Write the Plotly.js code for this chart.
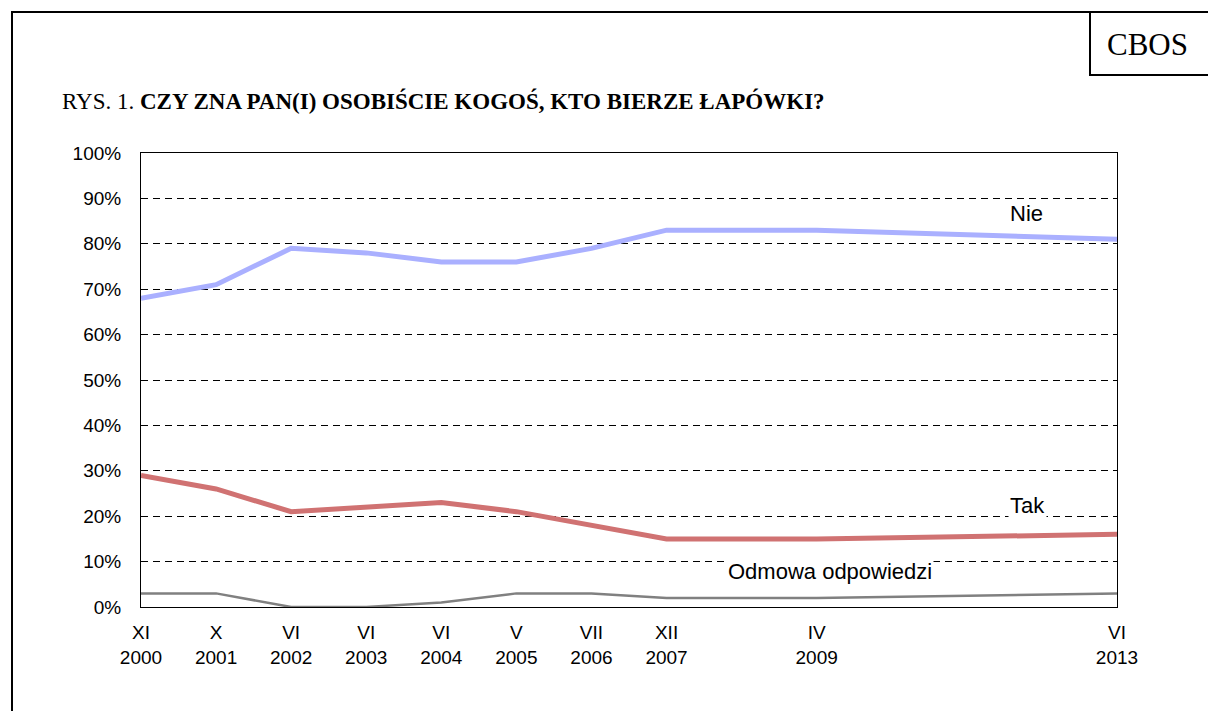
<!DOCTYPE html>
<html>
<head>
<meta charset="utf-8">
<script src="https://cdn.plot.ly/plotly-3.0.1.min.js"></script>
<style>
  html, body { margin: 0; padding: 0; background: #ffffff; }
  #chart { width: 1208px; height: 711px; }
</style>
</head>
<body>
<div id="chart"></div>
<script>
// ---- data ----
const monthLabels = ["XI", "X", "VI", "VI", "VI", "V", "VII", "XII", "IV", "VI"];
const yearLabels = ["2000", "2001", "2002", "2003", "2004", "2005", "2006", "2007", "2009", "2013"];
// category slot of each survey on the original (gapped) category axis
const slotIndex = [0, 1, 2, 3, 4, 5, 6, 7, 9, 13];
const nie = [68, 71, 79, 78, 76, 76, 79, 83, 83, 81];
const tak = [29, 26, 21, 22, 23, 21, 18, 15, 15, 16];
const odmowa = [3, 3, 0, 0, 1, 3, 3, 2, 2, 3];
const seriesNames = ["Nie", "Tak", "Odmowa odpowiedzi"];

// ---- layout helpers ----
const W = 1208, H = 711;
const M = {l: 141, r: 91, t: 153, b: 104};
const PW = W - M.l - M.r, PH = H - M.t - M.b;
const px = x => (x - M.l) / PW;
const py = y => (H - M.b - y) / PH;

const sans = "Liberation Sans, Arial, sans-serif";
const serif = "Liberation Serif, Times New Roman, serif";

const tickText = monthLabels.map((m, i) => m + "<br>" + yearLabels[i]);

const traces = [
  {x: slotIndex, y: nie, name: seriesNames[0], mode: "lines", line: {color: "#aab0ff", width: 5}, cliponaxis: false},
  {x: slotIndex, y: tak, name: seriesNames[1], mode: "lines", line: {color: "#d07272", width: 5}, cliponaxis: false},
  {x: slotIndex, y: odmowa, name: seriesNames[2], mode: "lines", line: {color: "#808080", width: 2.5}, cliponaxis: false}
];

const layout = {
  width: W, height: H,
  margin: M,
  paper_bgcolor: "#ffffff",
  plot_bgcolor: "#ffffff",
  showlegend: false,
  font: {family: sans, color: "#000000"},
  xaxis: {
    range: [0, 13],
    tickmode: "array",
    tickvals: slotIndex,
    ticktext: tickText,
    ticks: "",
    showgrid: false,
    zeroline: false,
    showline: true, linecolor: "#000000", linewidth: 1, mirror: true,
    tickfont: {family: sans, size: 19, color: "#000000"},
    ticklabelstandoff: 8,
    fixedrange: true
  },
  yaxis: {
    range: [0, 100],
    dtick: 10,
    ticksuffix: "%",
    ticks: "",
    showgrid: true, gridcolor: "#000000", gridwidth: 1, griddash: "7px,5px",
    zeroline: false,
    showline: true, linecolor: "#000000", linewidth: 1, mirror: true,
    tickfont: {family: sans, size: 19, color: "#000000"},
    ticklabelstandoff: 15,
    fixedrange: true
  },
  shapes: [
    {type: "rect", xref: "paper", yref: "paper", x0: px(12), x1: px(1215), y0: py(720), y1: py(12),
     line: {color: "#000000", width: 2}, fillcolor: "rgba(0,0,0,0)", layer: "above"},
    {type: "rect", xref: "paper", yref: "paper", x0: px(1090), x1: px(1215), y0: py(75), y1: py(12),
     line: {color: "#000000", width: 2}, fillcolor: "rgba(0,0,0,0)", layer: "above"}
  ],
  annotations: [
    {xref: "paper", yref: "paper", x: px(1147), y: py(44), xanchor: "center", yanchor: "middle",
     text: "CBOS", showarrow: false, font: {family: serif, size: 31, color: "#000000"}},
    {xref: "paper", yref: "paper", x: px(60), y: py(101), xanchor: "left", yanchor: "middle",
     text: "RYS. 1. <b>CZY ZNA PAN(I) OSOBIŚCIE KOGOŚ, KTO BIERZE ŁAPÓWKI?</b>", showarrow: false,
     font: {family: serif, size: 23, color: "#000000"}},
    {xref: "paper", yref: "paper", x: px(1026), y: py(213), xanchor: "center", yanchor: "middle",
     text: seriesNames[0], showarrow: false, font: {family: sans, size: 22, color: "#000000"}},
    {xref: "paper", yref: "paper", x: px(1027), y: py(506), xanchor: "center", yanchor: "middle",
     text: seriesNames[1], showarrow: false, font: {family: sans, size: 22, color: "#000000"}, bgcolor: "#ffffff"},
    {xref: "paper", yref: "paper", x: px(830), y: py(571), xanchor: "center", yanchor: "middle",
     text: seriesNames[2], showarrow: false, font: {family: sans, size: 22, color: "#000000"}, bgcolor: "#ffffff"}
  ]
};

Plotly.newPlot("chart", traces, layout, {displayModeBar: false, staticPlot: true});
</script>
</body>
</html>
